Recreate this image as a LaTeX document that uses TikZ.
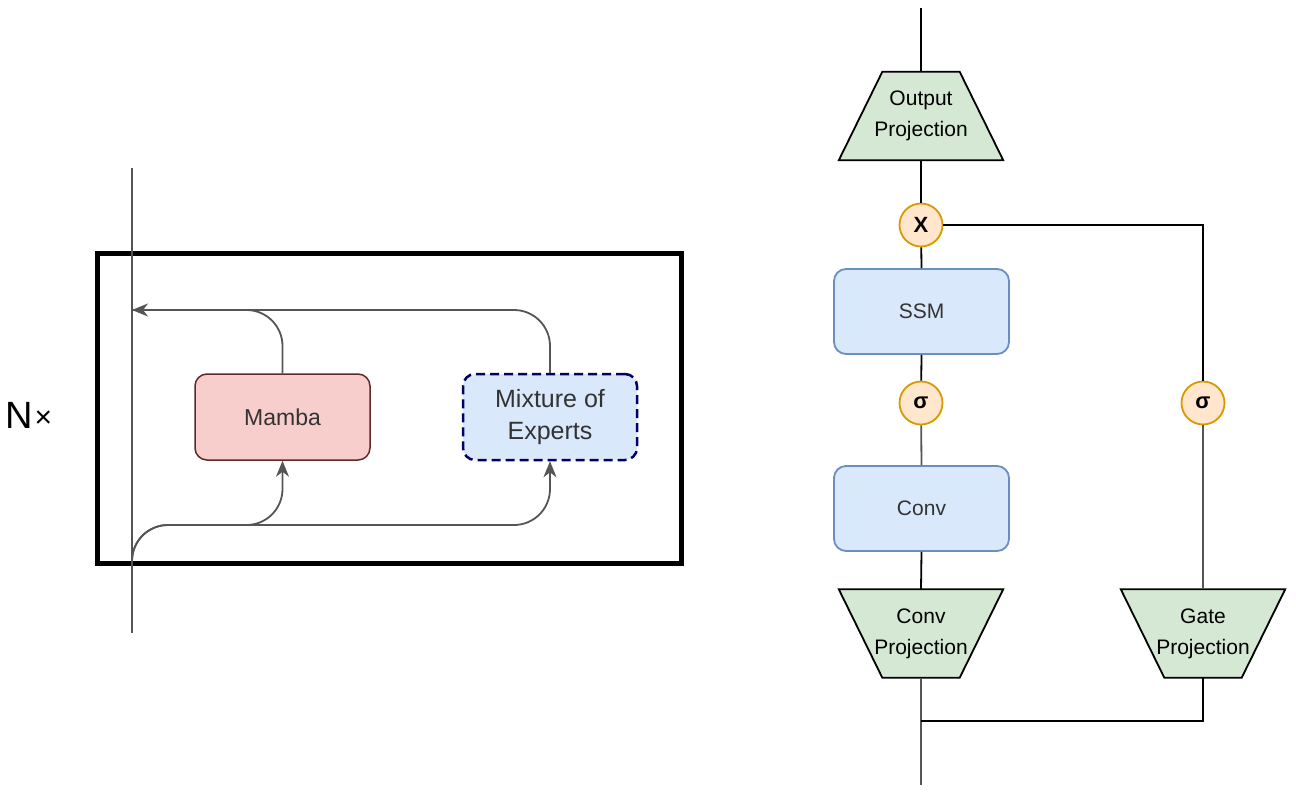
\documentclass[tikz,border=0pt]{standalone}
\usepackage{fontspec}
\setmainfont{Liberation Sans}
\usetikzlibrary{arrows.meta}
\definecolor{lgray}{HTML}{555555}
\definecolor{mambafill}{HTML}{F8CECC}
\definecolor{mambadraw}{HTML}{5E2A2A}
\definecolor{bluefill}{HTML}{DAE8FC}
\definecolor{bluedraw}{HTML}{6C8EBF}
\definecolor{navy}{HTML}{000066}
\definecolor{greenfill}{HTML}{D5E8D4}
\definecolor{opfill}{HTML}{FFE6CC}
\definecolor{opdraw}{HTML}{D79B00}
\definecolor{txtgray}{HTML}{333333}
\tikzset{
  flow/.style={draw=lgray, line width=1.8pt, rounded corners=36pt},
  arr/.style={-{Stealth[length=16pt,width=13pt,inset=5pt]}},
  wire/.style={draw=black, line width=1.8pt},
  mambabox/.style={draw=mambadraw, fill=mambafill, line width=1.5pt, rounded corners=12pt,
    minimum width=175pt, minimum height=86pt, inner sep=0pt, text=txtgray, font=\fontsize{23}{26}\selectfont},
  moebox/.style={draw=navy, fill=bluefill, line width=2.5pt, dash pattern=on 9pt off 5pt, rounded corners=12pt,
    minimum width=174pt, minimum height=86pt, inner sep=0pt, text=txtgray, align=center, font=\fontsize{25}{32}\selectfont},
  bluebox/.style={draw=bluedraw, fill=bluefill, line width=1.8pt, rounded corners=12pt,
    minimum width=175pt, minimum height=85pt, inner sep=0pt, text=txtgray, font=\fontsize{21}{24}\selectfont},
  projtext/.style={minimum width=164pt, minimum height=88pt, inner sep=0pt, align=center,
    font=\fontsize{21}{31}\selectfont},
  projshape/.style={draw=black, fill=greenfill, line width=1.8pt, line join=miter},
  opcirc/.style={circle, draw=opdraw, fill=opfill, line width=1.8pt, minimum size=43pt, inner sep=0pt,
    font=\bfseries\fontsize{22}{24}\selectfont}
}
\begin{document}
\begin{tikzpicture}[x=1pt,y=-1pt]
\useasboundingbox (0,0) rectangle (1296,805);
% ---------- left part ----------
\node[anchor=west, font=\fontsize{38}{40}\selectfont, inner sep=0pt] (nx) at (5,415) {N\kern2pt\raisebox{1pt}{\fontsize{30}{30}\selectfont ×}};
\draw[black, line width=5pt] (97,254) rectangle (681,563);
\coordinate (vtop) at (132,168);
\coordinate (vbot) at (132,633);
\coordinate (vin) at (132,578);
\coordinate (vout) at (132,310);
\draw[lgray, line width=1.5pt] (vtop) -- (vbot);
\node[mambabox] (mamba) at (282.5,417) {Mamba};
\node[moebox] (moe) at (550,417) {Mixture of\\Experts};
\draw[flow, arr] (moe.north) |- (vout);
\draw[flow] (mamba.north) |- (vout);
\draw[flow, arr] (vin) |- (mamba.south |- 0,525) -- (mamba.south);
\draw[flow, arr] (vin) |- (moe.south |- 0,525) -- (moe.south);
% ---------- right part ----------
\coordinate (rtop) at (921,8);
\coordinate (rbot) at (921,785);
\node[projtext] (outp) at (921,116) {};
\node[projtext] (convp) at (921,633.5) {};
\node[projtext] (gatep) at (1203,633.5) {};
\draw[projshape] (outp.south west) -- (outp.south east) -- ([xshift=-43.5pt]outp.north east) -- ([xshift=43.5pt]outp.north west) -- cycle;
\draw[projshape] (convp.north west) -- (convp.north east) -- ([xshift=-43.5pt]convp.south east) -- ([xshift=43.5pt]convp.south west) -- cycle;
\draw[projshape] (gatep.north west) -- (gatep.north east) -- ([xshift=-43.5pt]gatep.south east) -- ([xshift=43.5pt]gatep.south west) -- cycle;
\node[projtext] (outpt) at (outp.center) {Output\\Projection};
\node[projtext] (convpt) at (convp.center) {Conv\\Projection};
\node[projtext] (gatept) at (gatep.center) {Gate\\Projection};
\node[opcirc] (mul) at (921,225) {X};
\node[bluebox] (ssm) at (921.5,311.5) {SSM};
\node[opcirc] (sig1) at (921,403) {σ};
\node[bluebox] (conv) at (921.5,508.5) {Conv};
\node[opcirc] (sig2) at (1203,403) {σ};
\coordinate (split) at (921,721);
\draw[wire] (outp.north) -- (rtop);
\draw[wire] (outp.south) -- (mul);
\draw[wire] (mul) -- (ssm.north);
\draw[wire] (ssm.south) -- (sig1);
\draw[wire, draw=lgray] (sig1) -- (conv.north);
\draw[wire] (conv.south) -- (convp.north);
\draw[wire] (mul) -| (sig2);
\draw[wire, draw=lgray] (sig2) -- (gatep.north);
\draw[wire, draw=lgray] (convp.south) -- (rbot);
\draw[wire] (split) -| (gatep.south);
\end{tikzpicture}
\end{document}
